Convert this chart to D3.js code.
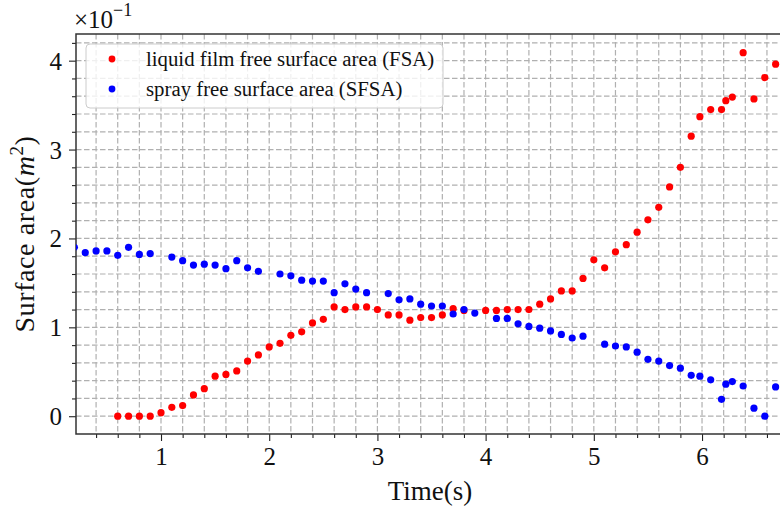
<!DOCTYPE html>
<html>
<head>
<meta charset="utf-8">
<script src="https://cdn.jsdelivr.net/npm/d3@7"></script>
<style>
  body { margin:0; background:#fff; }
  svg { display:block; font-family:"Liberation Serif", "DejaVu Serif", serif; }
</style>
</head>
<body>
<svg width="780" height="512"></svg>
<script>
// values in units of 10^-1 m^2 (axis shows x10^-1)
const fsaTime = [0.6,0.7,0.8,0.9,1.0,1.1,1.2,1.3,1.4,1.5,1.6,1.7,1.8,1.9,2.0,2.1,2.2,2.3,2.4,2.5,
  2.6,2.7,2.8,2.9,3.0,3.1,3.2,3.3,3.4,3.5,3.6,3.7,3.8,4.0,4.1,4.2,4.3,4.4,4.5,4.6,
  4.7,4.8,4.9,5.0,5.1,5.2,5.3,5.4,5.5,5.6,5.7,5.8,5.9,5.98,6.08,6.18,6.22,6.28,6.38,6.48,6.58,6.68]
const fsaValue = [0.00,0.00,0.00,0.00,0.04,0.10,0.12,0.24,0.31,0.45,0.47,0.51,0.62,0.69,0.78,0.82,0.91,0.95,1.05,1.09,
  1.23,1.20,1.23,1.23,1.20,1.14,1.14,1.08,1.11,1.11,1.14,1.21,1.19,1.19,1.19,1.20,1.20,1.20,1.26,1.32,
  1.41,1.41,1.55,1.76,1.67,1.85,1.93,2.07,2.21,2.35,2.58,2.80,3.15,3.37,3.45,3.45,3.55,3.59,4.09,3.57,3.81,3.96]

const sfsaTime = [0.2,0.3,0.4,0.5,0.6,0.7,0.8,0.9,1.1,1.2,1.3,1.4,1.5,1.6,1.7,1.8,1.9,
  2.1,2.2,2.3,2.4,2.5,2.6,2.7,2.8,2.9,3.1,3.2,3.3,3.4,3.5,3.6,3.7,3.8,3.9,
  4.1,4.2,4.3,4.4,4.5,4.6,4.7,4.8,4.9,5.1,5.2,5.3,5.4,5.5,5.6,5.7,5.8,5.9,
  5.98,6.08,6.18,6.22,6.28,6.38,6.48,6.58,6.68]
const sfsaValue = [1.90,1.84,1.86,1.86,1.81,1.90,1.82,1.83,1.79,1.75,1.70,1.71,1.70,1.66,1.75,1.67,1.63,
  1.60,1.58,1.53,1.52,1.52,1.39,1.49,1.43,1.39,1.38,1.31,1.32,1.26,1.24,1.24,1.15,1.20,1.16,
  1.10,1.10,1.04,1.01,0.99,0.96,0.92,0.88,0.90,0.81,0.79,0.78,0.72,0.64,0.62,0.57,0.54,0.46,
  0.45,0.41,0.19,0.36,0.39,0.34,0.09,0.00,0.33]

const xMajor = [1,2,3,4,5,6]
const xMinor = [0.4,0.6,0.8,1.2,1.4,1.6,1.8,2.2,2.4,2.6,2.8,3.2,3.4,3.6,3.8,4.2,4.4,4.6,4.8,5.2,5.4,5.6,5.8,6.2,6.4,6.6]
const yMajor = [0,1,2,3,4]
const yMinor = [0.2,0.4,0.6,0.8,1.2,1.4,1.6,1.8,2.2,2.4,2.6,2.8,3.2,3.4,3.6,3.8,4.2]

const seriesNames = ['liquid film free surface area (FSA)', 'spray free surface area (SFSA)']
const seriesColors = ['#ff0000', '#0000ff']

const svg = d3.select("svg")
const margin = { top:34, left:76, bottom:434, right:790 }

const xScale = d3.scaleLinear()
    .domain([0.2144, 6.813])
    .range([margin.left, margin.right])
const yScale = d3.scaleLinear()
    .domain([-0.2, 4.3])
    .range([margin.bottom, margin.top])

svg.append('clipPath').attr('id','plot-clip')
    .append('rect')
    .attr('x', margin.left).attr('y', margin.top)
    .attr('width', margin.right - margin.left).attr('height', margin.bottom - margin.top)

//grid (major + minor, dashed)
const grid = svg.append('g')
xMajor.concat(xMinor).forEach(v => {
    grid.append('line')
        .attr('x1', xScale(v)).attr('x2', xScale(v))
        .attr('y1', margin.top).attr('y2', margin.bottom)
})
yMajor.concat(yMinor).forEach(v => {
    grid.append('line')
        .attr('x1', margin.left).attr('x2', margin.right)
        .attr('y1', yScale(v)).attr('y2', yScale(v))
})
grid.selectAll('line')
    .attr('stroke', '#b0b0b0')
    .attr('stroke-width', 1.2)
    .attr('stroke-dasharray', '5.5,2.5')

//axes
const xAxisG = svg.append('g')
    .attr('transform', `translate(0,${margin.bottom})`)
    .call(d3.axisBottom(xScale).tickValues(xMajor).tickSize(7).tickPadding(6).tickFormat(d3.format('d')))
const xMinorG = svg.append('g')
    .attr('transform', `translate(0,${margin.bottom})`)
    .call(d3.axisBottom(xScale).tickValues(xMinor).tickSize(4).tickFormat(''))
const yAxisG = svg.append('g')
    .attr('transform', `translate(${margin.left},0)`)
    .call(d3.axisLeft(yScale).tickValues(yMajor).tickSize(7).tickPadding(7).tickFormat(d3.format('d')))
const yMinorG = svg.append('g')
    .attr('transform', `translate(${margin.left},0)`)
    .call(d3.axisLeft(yScale).tickValues(yMinor).tickSize(4).tickFormat(''))

;[xAxisG, xMinorG, yAxisG, yMinorG].forEach(a => {
    a.select('.domain').remove()
    a.selectAll('.tick line').attr('stroke', '#222').attr('stroke-width', 1.1)
    a.selectAll('text')
        .attr('font-family', '"Liberation Serif", serif')
        .attr('font-size', '25px')
        .attr('fill', '#111')
})
yAxisG.selectAll('text').attr('dy', '0.34em')

//spines
svg.append('path')
    .attr('d', `M${margin.right},${margin.top}H${margin.left}V${margin.bottom}H${margin.right}`)
    .attr('fill', 'none')
    .attr('stroke', '#333')
    .attr('stroke-width', 1.5)

//data points
const plot = svg.append('g').attr('clip-path', 'url(#plot-clip)')
const fsa = fsaTime.map((t, i) => ({ t: t, v: fsaValue[i] }))
const sfsa = sfsaTime.map((t, i) => ({ t: t, v: sfsaValue[i] }))

plot.selectAll('circle.fsa').data(fsa)
    .enter().append('circle')
    .attr('class', 'fsa')
    .attr('cx', d => xScale(d.t))
    .attr('cy', d => yScale(d.v))
    .attr('r', 3.6)
    .attr('fill', seriesColors[0])
plot.selectAll('circle.sfsa').data(sfsa)
    .enter().append('circle')
    .attr('class', 'sfsa')
    .attr('cx', d => xScale(d.t))
    .attr('cy', d => yScale(d.v))
    .attr('r', 3.6)
    .attr('fill', seriesColors[1])

//legend
svg.append('rect')
    .attr('x', 86).attr('y', 44)
    .attr('width', 357).attr('height', 64)
    .attr('rx', 4)
    .attr('fill', 'white').attr('fill-opacity', 0.8)
    .attr('stroke', '#cccccc').attr('stroke-width', 1)
seriesNames.forEach((name, i) => {
    svg.append('circle').attr('cx', 112).attr('cy', 59 + i*30).attr('r', 3.4).attr('fill', seriesColors[i])
    svg.append('text').attr('x', 146).attr('y', 66 + i*30).text(name)
        .attr('font-size', '20.8px').attr('fill', '#111')
})

//axis titles
svg.append('text')
    .attr('x', (margin.left + 780)/2 + 2)
    .attr('y', 500)
    .attr('text-anchor', 'middle')
    .attr('font-size', '27px')
    .attr('fill', '#111')
    .text('Time(s)')

const yTitle = svg.append('text')
    .attr('transform', `translate(34,${(margin.top + margin.bottom)/2}) rotate(-90)`)
    .attr('text-anchor', 'middle')
    .attr('font-size', '28px')
    .attr('letter-spacing', '0.6px')
    .attr('fill', '#111')
yTitle.append('tspan').text('Surface area(')
yTitle.append('tspan').attr('font-style', 'italic').text('m')
yTitle.append('tspan').attr('font-size', '19px').attr('dy', '-0.6em').text('2')
yTitle.append('tspan').attr('dy', '0.4em').text(')')

//offset text
const offset = svg.append('text')
    .attr('x', 74).attr('y', 28)
    .attr('font-size', '25px')
    .attr('fill', '#111')
offset.append('tspan').text('×10')
offset.append('tspan').attr('font-size', '18px').attr('dy', '-0.65em').text('−1')
</script>
</body>
</html>
